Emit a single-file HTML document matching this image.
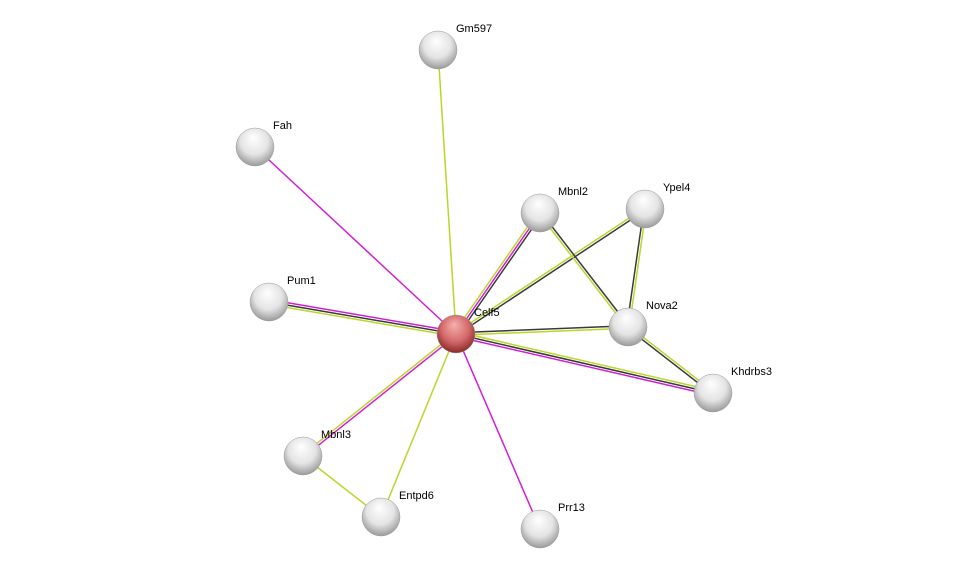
<!DOCTYPE html>
<html><head><meta charset="utf-8"><style>
html,body{margin:0;padding:0;background:#fff;width:975px;height:574px;overflow:hidden}
text{font-family:"Liberation Sans",sans-serif;font-size:11px;fill:#000}
</style></head><body>
<svg id="s" width="975" height="574" xmlns="http://www.w3.org/2000/svg">
<defs>
<radialGradient id="g" cx="50%" cy="40%" r="60%" fx="45%" fy="25%">
<stop offset="0" stop-color="#ffffff"/><stop offset="0.6" stop-color="#e4e4e4"/><stop offset="1" stop-color="#9a9a9a"/></radialGradient>
<radialGradient id="r" cx="50%" cy="40%" r="60%" fx="45%" fy="25%">
<stop offset="0" stop-color="#f4b0b0"/><stop offset="0.6" stop-color="#d46a6a"/><stop offset="1" stop-color="#8a2a2a"/></radialGradient>
</defs>
<g id="e"></g><g id="n"></g>
</svg>
<script>
var N={Gm597:[438,50],Fah:[255,147],Mbnl2:[540,213],Ypel4:[645,209],Pum1:[269,302],Celf5:[456,334],Nova2:[628,327],Khdrbs3:[713,393],Mbnl3:[303,456],Entpd6:[381,517],Prr13:[540,529]};
var M="#d21ed2",Y="#b9d72a",K="#3a3a3a";
var E=[["Celf5","Gm597",[Y]],["Celf5","Fah",[M]],["Celf5","Pum1",[Y,K,M]],["Celf5","Mbnl2",[Y,M,K]],["Celf5","Ypel4",[Y,K]],["Celf5","Nova2",[K,Y]],["Celf5","Khdrbs3",[Y,K,M]],["Celf5","Mbnl3",[M,Y]],["Celf5","Entpd6",[Y]],["Celf5","Prr13",[M]],["Mbnl2","Nova2",[K,Y]],["Ypel4","Nova2",[Y,K]],["Nova2","Khdrbs3",[Y,K]],["Mbnl3","Entpd6",[Y]]];
var s="";
E.forEach(function(e){var a=N[e[0]],b=N[e[1]],dx=b[0]-a[0],dy=b[1]-a[1],l=Math.hypot(dx,dy),px=-dy/l,py=dx/l,n=e[2].length;
e[2].forEach(function(c,i){var o=(i-(n-1)/2)*2.4;s+='<line x1="'+(a[0]+px*o)+'" y1="'+(a[1]+py*o)+'" x2="'+(b[0]+px*o)+'" y2="'+(b[1]+py*o)+'" stroke="'+c+'" stroke-width="1.5"/>';});});
document.getElementById("e").innerHTML=s;s="";
for(var k in N){var p=N[k];s+='<circle cx="'+p[0]+'" cy="'+p[1]+'" r="19" fill="url(#'+(k=="Celf5"?"r":"g")+')" stroke="#999" stroke-width="0.5"/>';
s+='<text x="'+(p[0]+18)+'" y="'+(p[1]-18)+'">'+k+'</text>';}
document.getElementById("n").innerHTML=s;
</script>
</body></html>
